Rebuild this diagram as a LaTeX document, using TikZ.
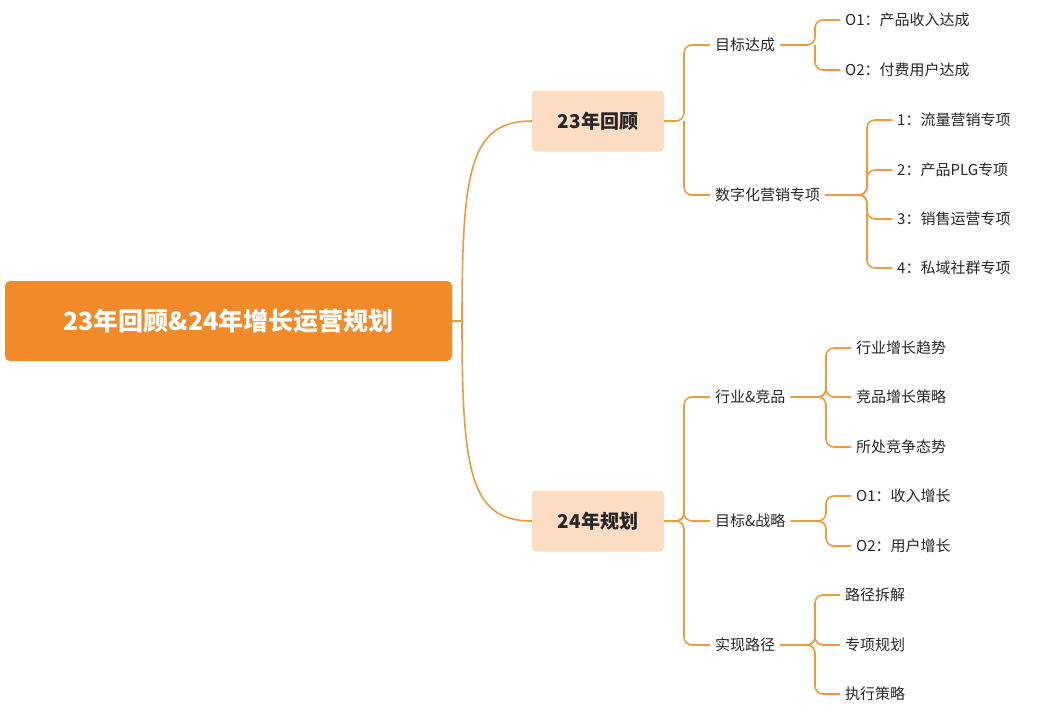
\documentclass[tikz,border=0pt]{standalone}
\usepackage{fontspec}
\setmainfont{Noto Sans CJK SC}
\begin{document}
\begin{tikzpicture}[x=1pt,y=-1pt,
  br/.style={draw=lineor,line width=1.6pt,rounded corners=8pt},
  leaf/.style={anchor=west,inner xsep=5pt,inner ysep=2pt,font=\fontsize{15}{18}\selectfont,text=black!85},
  lvl/.style={fill=peach,rounded corners=4pt,minimum width=132pt,minimum height=61pt,font=\bfseries\fontsize{19}{22}\selectfont,text=black!85}]
\definecolor{lineor}{HTML}{EE9A3E}
\definecolor{rootor}{HTML}{F28A2A}
\definecolor{peach}{HTML}{FDDCC4}
\useasboundingbox (0,0) rectangle (1039,710);
\node[fill=rootor,rounded corners=5pt,minimum width=447pt,minimum height=80pt,text=white,font=\bfseries\fontsize{25}{30}\selectfont] (root) at (228.5,321) {23年回顾\&24年增长运营规划};
\node[lvl] (a) at (598,121) {23年回顾};
\node[lvl] (b) at (598,521) {24年规划};
\draw[br,rounded corners=0pt] (root.east) -- (462,321) .. controls (462,170) and (470,121) .. (a.west);
\draw[br,rounded corners=0pt] (462,321) .. controls (462,472) and (470,521) .. (b.west);
% 23
\node[leaf] (a1) at (710,45) {目标达成};
\node[leaf] (a2) at (710,195) {数字化营销专项};
\draw[br] (a.east) -- (684,121) |- (a1.west);
\draw[br] (684,121) |- (a2.west);
\node[leaf] (a11) at (840,20) {O1：产品收入达成};
\node[leaf] (a12) at (840,70) {O2：付费用户达成};
\draw[br] (a1.east) -- (815,45) |- (a11.west);
\draw[br] (815,45) |- (a12.west);
\node[leaf] (a21) at (892,120) {1：流量营销专项};
\node[leaf] (a22) at (892,170) {2：产品PLG专项};
\node[leaf] (a23) at (892,219) {3：销售运营专项};
\node[leaf] (a24) at (892,268) {4：私域社群专项};
\foreach \n in {a21,a22,a23,a24} \draw[br] (a2.east) -- (867,195) |- (\n.west);
% 24
\node[leaf] (b1) at (710,397) {行业\&竞品};
\node[leaf] (b2) at (710,521) {目标\&战略};
\node[leaf] (b3) at (710,645) {实现路径};
\foreach \n in {b1,b2,b3} \draw[br] (b.east) -- (684,521) |- (\n.west);
\node[leaf] (b11) at (851,348) {行业增长趋势};
\node[leaf] (b12) at (851,397) {竞品增长策略};
\node[leaf] (b13) at (851,447) {所处竞争态势};
\foreach \n in {b11,b12,b13} \draw[br] (b1.east) -- (826,397) |- (\n.west);
\node[leaf] (b21) at (851,496) {O1：收入增长};
\node[leaf] (b22) at (851,546) {O2：用户增长};
\foreach \n in {b21,b22} \draw[br] (b2.east) -- (826,521) |- (\n.west);
\node[leaf] (b31) at (840,595) {路径拆解};
\node[leaf] (b32) at (840,645) {专项规划};
\node[leaf] (b33) at (840,694) {执行策略};
\foreach \n in {b31,b32,b33} \draw[br] (b3.east) -- (815,645) |- (\n.west);
\end{tikzpicture}
\end{document}
